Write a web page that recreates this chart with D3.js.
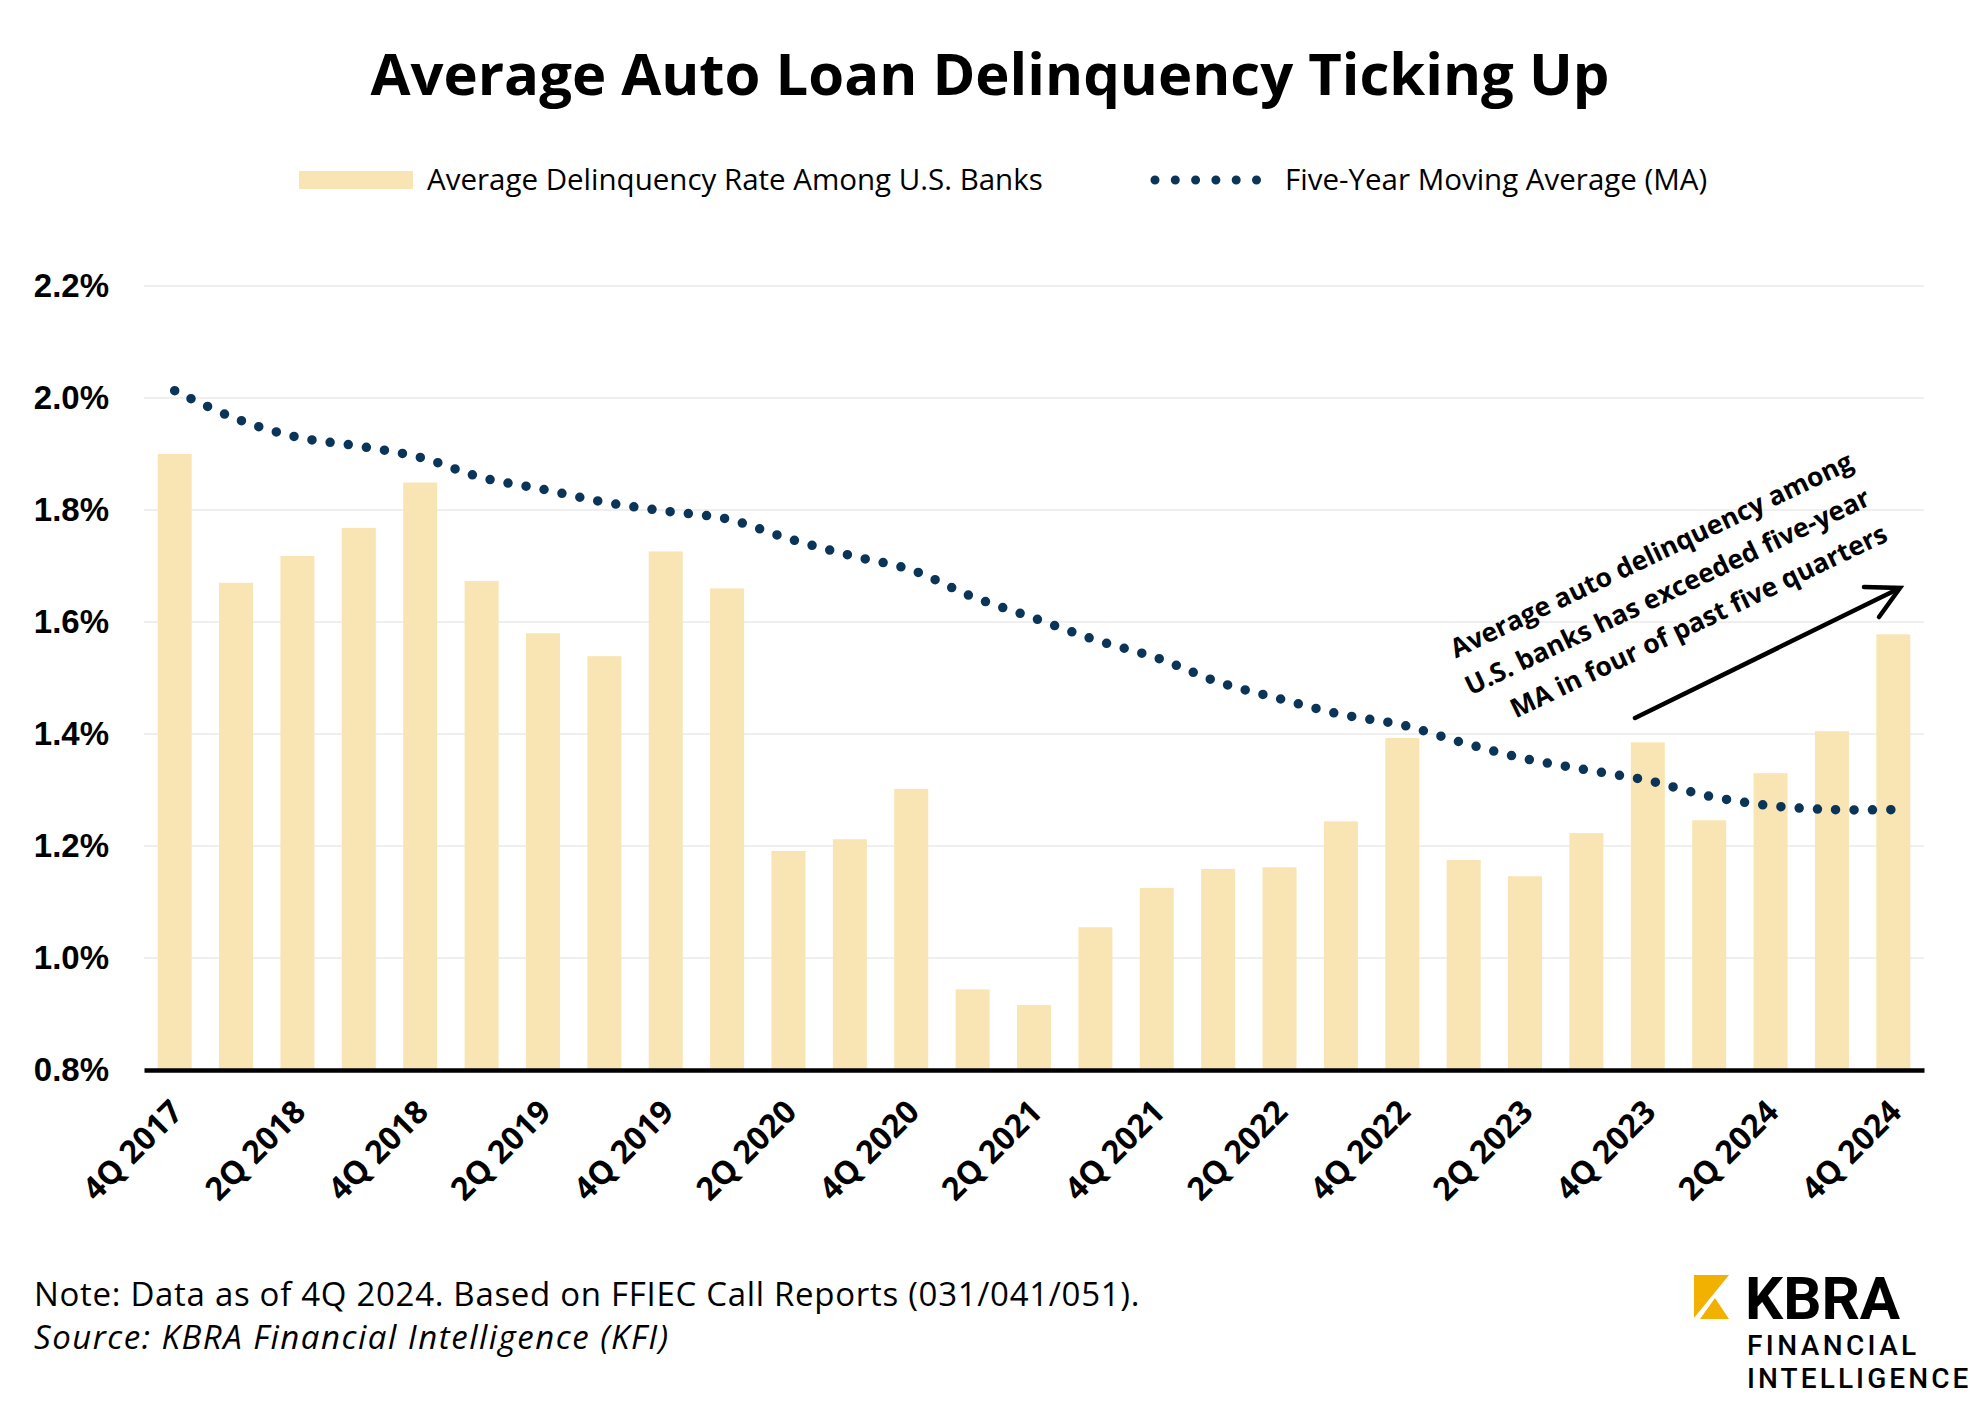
<!DOCTYPE html>
<html>
<head>
<meta charset="utf-8">
<script src="https://cdn.jsdelivr.net/npm/d3@7"></script>
<style>
  html, body { margin: 0; padding: 0; background: #ffffff; }
  svg { display: block; }
</style>
</head>
<body>
<svg id="chart" width="1980" height="1403"></svg>
<script>
// ---------- data ----------
const quarters = ["4Q 2017","1Q 2018","2Q 2018","3Q 2018","4Q 2018","1Q 2019","2Q 2019","3Q 2019","4Q 2019",
  "1Q 2020","2Q 2020","3Q 2020","4Q 2020","1Q 2021","2Q 2021","3Q 2021","4Q 2021","1Q 2022","2Q 2022",
  "3Q 2022","4Q 2022","1Q 2023","2Q 2023","3Q 2023","4Q 2023","1Q 2024","2Q 2024","3Q 2024","4Q 2024"];
const delinquencyRate = [1.900,1.670,1.718,1.768,1.849,1.673,1.580,1.539,1.726,
  1.660,1.191,1.212,1.302,0.944,0.916,1.055,1.125,1.159,1.162,
  1.244,1.393,1.175,1.146,1.223,1.385,1.246,1.330,1.405,1.578];
const movingAverage = [2.013,1.963,1.930,1.914,1.894,1.858,1.837,1.814,1.798,
  1.784,1.749,1.719,1.693,1.645,1.607,1.568,1.536,1.493,1.463,
  1.435,1.416,1.384,1.356,1.336,1.317,1.289,1.272,1.265,1.265];
const yTicks = [0.8,1.0,1.2,1.4,1.6,1.8,2.0,2.2];
const xTickLabels = ["4Q 2017","2Q 2018","4Q 2018","2Q 2019","4Q 2019","2Q 2020","4Q 2020","2Q 2021",
  "4Q 2021","2Q 2022","4Q 2022","2Q 2023","4Q 2023","2Q 2024","4Q 2024"];
const titleText = "Average Auto Loan Delinquency Ticking Up";
const legendLabels = ["Average Delinquency Rate Among U.S. Banks","Five-Year Moving Average (MA)"];
const annotationLines = ["Average auto delinquency among","U.S. banks has exceeded five-year","MA in four of past five quarters"];
const noteText = "Note: Data as of 4Q 2024. Based on FFIEC Call Reports (031/041/051).";
const sourceText = "Source: KBRA Financial Intelligence (KFI)";

// ---------- styles ----------
const BAR = "#F8E5B3", NAVY = "#0B3558";
const svg = d3.select("#chart");
const plotL = 144, plotR = 1924, plotT = 286, plotB = 1070;

const x = d3.scaleBand().domain(quarters).range([plotL, plotR]).paddingInner(0.446).paddingOuter(0.223);
const y = d3.scaleLinear().domain([0.8, 2.2]).range([plotB, plotT]);

// title
svg.append("text").attr("x", 990).attr("y", 95).attr("text-anchor", "middle")
  .style("font-family", "'Open Sans', sans-serif").style("font-weight", 700).style("font-size", "58px")
  .attr("fill", "#000").text(titleText);

// legend
const lg = svg.append("g");
lg.append("rect").attr("x", 299).attr("y", 171).attr("width", 114).attr("height", 18).attr("fill", BAR);
lg.append("text").attr("x", 427).attr("y", 190).text(legendLabels[0])
  .style("font-family", "'Open Sans', sans-serif").style("font-size", "29.5px").attr("fill", "#000");
lg.append("line").attr("x1", 1155).attr("x2", 1258).attr("y1", 180).attr("y2", 180)
  .attr("stroke", NAVY).attr("stroke-width", 9).attr("stroke-linecap", "round").attr("stroke-dasharray", "0 20.3");
lg.append("text").attr("x", 1285).attr("y", 190).text(legendLabels[1])
  .style("font-family", "'Open Sans', sans-serif").style("font-size", "29.5px").attr("fill", "#000");

// gridlines
svg.append("g").selectAll("line").data(yTicks.filter(d => d > 0.8)).join("line")
  .attr("x1", plotL).attr("x2", plotR).attr("y1", d => y(d)).attr("y2", d => y(d))
  .attr("stroke", "#efefef").attr("stroke-width", 2);

// y axis
const yAxis = svg.append("g").attr("transform", `translate(${plotL},0)`)
  .call(d3.axisLeft(y).tickValues(yTicks).tickFormat(d => d.toFixed(1) + "%").tickSize(0).tickPadding(35));
yAxis.select(".domain").remove();
yAxis.selectAll("text").style("font-family", "'Liberation Sans', Arial, sans-serif")
  .style("font-weight", 700).style("font-size", "33px").attr("fill", "#000");

// bars
svg.append("g").selectAll("rect").data(quarters).join("rect")
  .attr("x", d => x(d)).attr("width", x.bandwidth())
  .attr("y", (d, i) => y(delinquencyRate[i]))
  .attr("height", (d, i) => y(0.8) - y(delinquencyRate[i]))
  .attr("fill", BAR);

// x axis
const xAxis = svg.append("g").attr("transform", `translate(0,${plotB})`)
  .call(d3.axisBottom(x).tickValues(xTickLabels).tickSize(0));
xAxis.select(".domain").attr("stroke", "#000").attr("stroke-width", 4.5);
xAxis.selectAll("text")
  .attr("text-anchor", "end")
  .attr("transform", "translate(2,36) rotate(-45)")
  .attr("y", 0).attr("x", 0).attr("dy", "0.35em")
  .style("font-family", "'Open Sans', sans-serif").style("font-weight", 700).style("font-size", "32px")
  .attr("fill", "#000");

// moving average
const line = d3.line()
  .x((d, i) => x(quarters[i]) + x.bandwidth() / 2)
  .y(d => y(d))
  .curve(d3.curveCatmullRom.alpha(0.5));
svg.append("path").datum(movingAverage).attr("d", line)
  .attr("fill", "none").attr("stroke", NAVY).attr("stroke-width", 9.5)
  .attr("stroke-linecap", "round").attr("stroke-dasharray", "0 18.3");

// annotation
const ann = svg.append("g").attr("transform", "translate(1855,468) rotate(-25.5)");
ann.selectAll("text").data(annotationLines).join("text")
  .attr("x", 0).attr("y", (d, i) => i * 40).attr("text-anchor", "end")
  .style("font-family", "'Open Sans', sans-serif").style("font-weight", 700).style("font-size", "26.5px")
  .attr("fill", "#000").text(d => d);
svg.append("line").attr("x1", 1635).attr("y1", 718).attr("x2", 1898).attr("y2", 589)
  .attr("stroke", "#000").attr("stroke-width", 4.5).attr("stroke-linecap", "round");
svg.append("polyline").attr("points", "1864,587 1900,588 1879,617")
  .attr("fill", "none").attr("stroke", "#000").attr("stroke-width", 4.5)
  .attr("stroke-linecap", "round").attr("stroke-linejoin", "miter");

// footer
svg.append("text").attr("x", 34).attr("y", 1306).text(noteText)
  .style("font-family", "'Open Sans', sans-serif").style("font-size", "33px")
  .style("letter-spacing", "0.7px").attr("fill", "#000");
svg.append("text").attr("x", 34).attr("y", 1349).text(sourceText)
  .style("font-family", "'Open Sans', sans-serif").style("font-style", "italic").style("font-size", "33px")
  .style("letter-spacing", "1.5px").attr("fill", "#000");

// logo
const logo = svg.append("g");
logo.append("polygon").attr("points", "1694,1275 1729,1275 1694,1318").attr("fill", "#F2B000");
logo.append("polygon").attr("points", "1715,1298 1729,1319 1700,1319").attr("fill", "#F2B000");
logo.append("text").attr("x", 1745).attr("y", 1319).text("KBRA")
  .style("font-family", "Roboto, sans-serif").style("font-weight", 700).style("font-size", "60px").attr("fill", "#000");
logo.append("text").attr("x", 1747).attr("y", 1355).text("FINANCIAL")
  .style("font-family", "Roboto, sans-serif").style("font-weight", 500).style("font-size", "28px")
  .style("letter-spacing", "3.4px").attr("fill", "#000");
logo.append("text").attr("x", 1747).attr("y", 1388).text("INTELLIGENCE")
  .style("font-family", "Roboto, sans-serif").style("font-weight", 500).style("font-size", "28px")
  .style("letter-spacing", "3.1px").attr("fill", "#000");
</script>
</body>
</html>
